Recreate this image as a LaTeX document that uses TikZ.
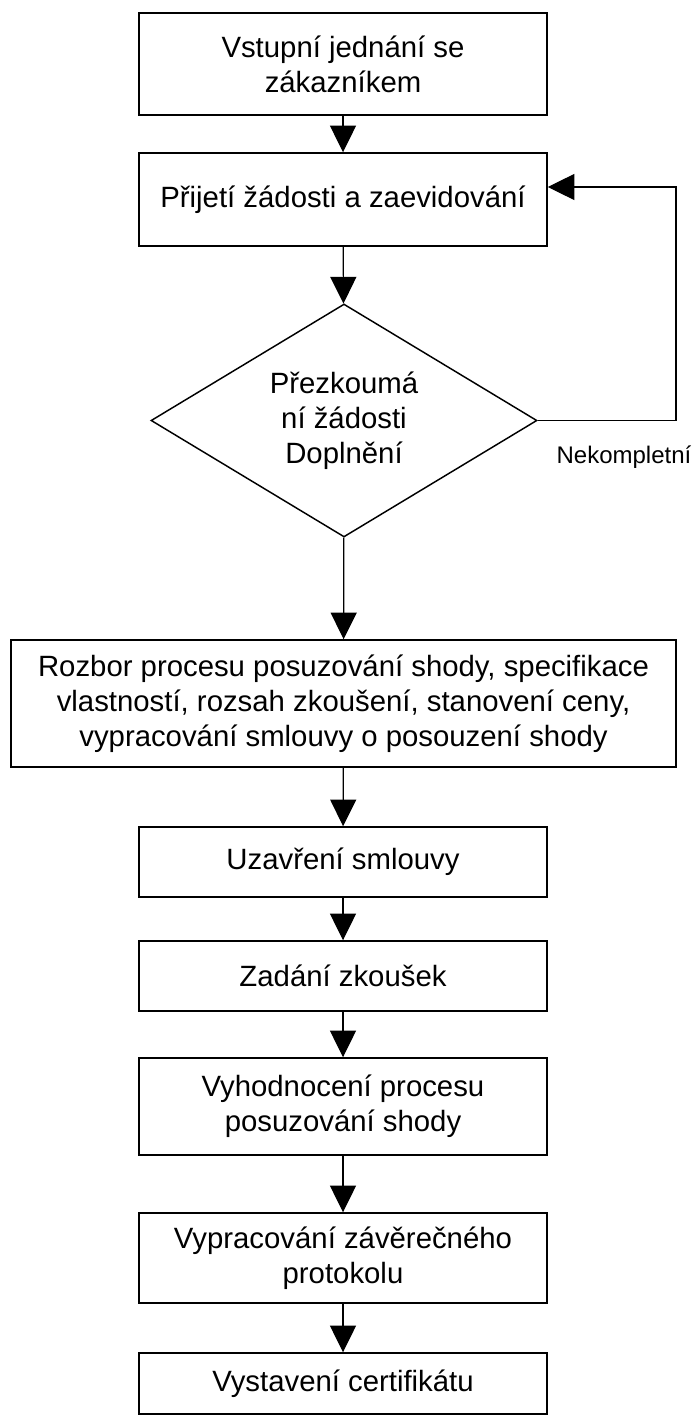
\documentclass[tikz,border=0pt]{standalone}
\usepackage{fontspec}
\setmainfont{Liberation Sans}
\usetikzlibrary{arrows.meta,shapes.geometric,positioning}
\tikzset{
  basic/.style    = {draw, line width=1.1pt, rectangle, align=center, inner sep=0pt,
                     font=\fontsize{22}{26.25}\selectfont},
  stepbox/.style  = {basic, minimum width=306pt},
  widebox/.style  = {basic, minimum width=498.75pt},
  decision/.style = {basic, diamond, aspect=1.66, minimum width=289.5pt, minimum height=174.75pt},
  note/.style     = {inner sep=0pt, font=\fontsize{18}{22}\selectfont},
  flow/.style     = {-{Triangle[length=20pt,width=19.5pt]}, line width=0.9pt}
}

\begin{document}
\begin{tikzpicture}[x=0.75pt, y=-0.75pt]
\useasboundingbox (0,0) rectangle (694,1416);

% main flow, top to bottom
\node[stepbox, minimum height=76.5pt] (s1) at (343,64) {Vstupní jednání se\\zákazníkem};
\node[stepbox, minimum height=69.75pt] (s2) at (343,199.5) {Přijetí žádosti a zaevidování};
\node[decision] (dec) at (344,420.5) {Přezkoumá\\ní žádosti\\Doplnění};
\node[widebox, minimum height=95.25pt] (s3) at (343.5,703.5)
  {Rozbor procesu posuzování shody, specifikace\\vlastností, rozsah zkoušení, stanovení ceny,\\vypracování smlouvy o posouzení shody};
\node[stepbox, minimum height=52.5pt] (s4) at (343,862) {Uzavření smlouvy};
\node[stepbox, minimum height=52.5pt] (s5) at (343,976) {Zadání zkoušek};
\node[stepbox, minimum height=72.75pt] (s6) at (343,1106.5) {Vyhodnocení procesu\\posuzování shody};
\node[stepbox, minimum height=67.5pt] (s7) at (343,1258) {Vypracování závěrečného\\protokolu};
\node[stepbox, minimum height=45.75pt] (s8) at (343,1383.5) {Vystavení certifikátu};

% loop back when incomplete
\coordinate (back) at (676,187);
\node[note] (nek) at (624,457) {Nekompletní};

\draw[flow] (s1) -- (s2);
\draw[flow] (s2) -- (dec);
\draw[flow] (dec) -- (s3);
\draw[flow] (s3) -- (s4);
\draw[flow] (s4) -- (s5);
\draw[flow] (s5) -- (s6);
\draw[flow] (s6) -- (s7);
\draw[flow] (s7) -- (s8);
\draw[flow] (dec.east) -| (back) -- (back -| s2.east);

\end{tikzpicture}
\end{document}
